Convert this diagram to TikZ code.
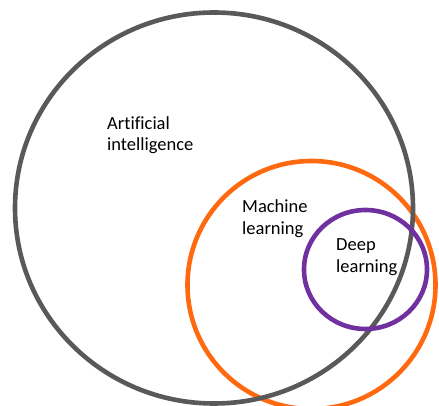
\documentclass[tikz,border=0pt]{standalone}
\usepackage{fontspec}
\setmainfont{Carlito}[Ligatures=NoCommon]
\usetikzlibrary{shapes.geometric}
\definecolor{aigray}{HTML}{595959}
\definecolor{mlorange}{HTML}{FF6A10}
\definecolor{dlpurple}{HTML}{7030A0}
\begin{document}
\begin{tikzpicture}[x=1pt,y=-1pt,font=\fontsize{18.5}{21.5}\selectfont,
	ring/.style={draw=#1,line width=4.6pt,ellipse,inner sep=0pt},
	lbl/.style={anchor=base west,align=left,inner sep=0pt}]
	\useasboundingbox (0,0) rectangle (439,406);
	% nested sets, drawn orange first so that the grey ring passes over it
	\node[ring=mlorange,minimum width=248pt,minimum height=248pt] (ml) at (311.5,285) {};
	\node[ring=aigray,minimum width=398pt,minimum height=391pt] (ai) at (214,208) {};
	\node[ring=dlpurple,minimum width=123pt,minimum height=119pt] (dl) at (365.5,269.5) {};
	% labels (base anchor sits on the last line)
	\node[lbl] (ailbl) at (107,151) {Artificial\\intelligence};
	\node[lbl] (mllbl) at (242,234.5) {Machine\\learning};
	\node[lbl] (dllbl) at (336,272) {Deep\\learning};
\end{tikzpicture}
\end{document}
